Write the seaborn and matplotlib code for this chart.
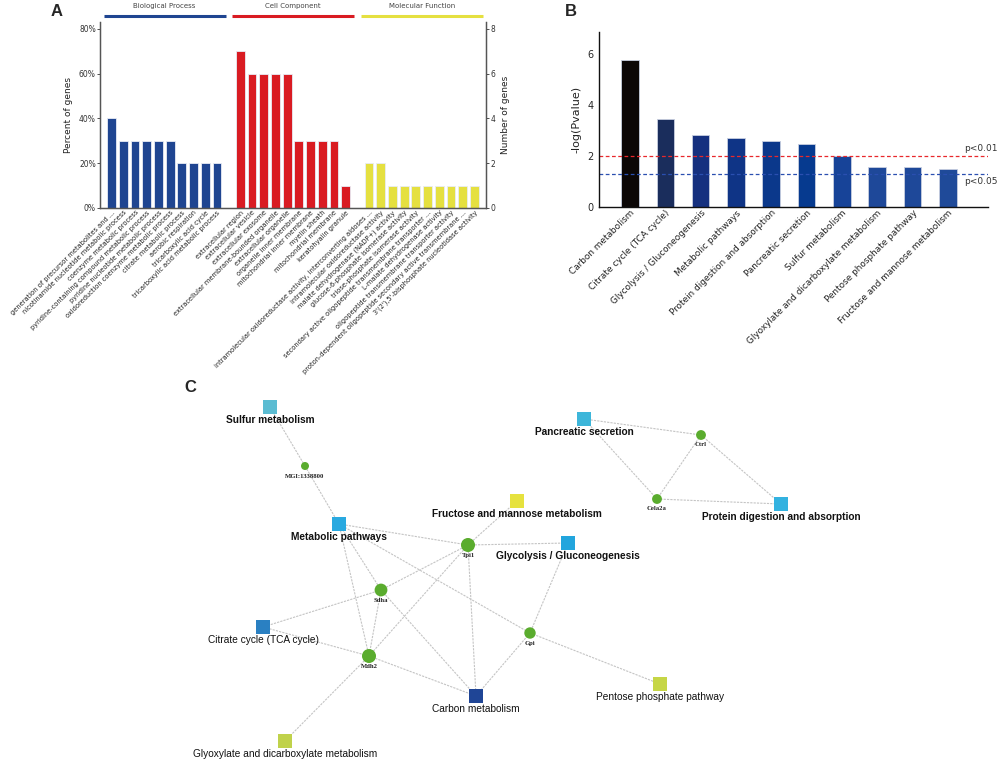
import numpy as np
import pandas as pd
import matplotlib
matplotlib.use("Agg")
import matplotlib.pyplot as plt
import matplotlib.transforms as mtransforms
from matplotlib.ticker import PercentFormatter
import seaborn as sns

# ---------------- panel A data (GO enrichment)
bp_terms = ["generation of precursor metabolites and ...",
            "nicotinamide nucleotide metabolic process",
            "coenzyme metabolic process",
            "pyridine-containing compound metabolic process",
            "pyridine nucleotide metabolic process",
            "oxidoreduction coenzyme metabolic process",
            "citrate metabolic process",
            "aerobic respiration",
            "tricarboxylic acid cycle",
            "tricarboxylic acid metabolic process"]
bp_pct = [40, 30, 30, 30, 30, 30, 20, 20, 20, 20]

cc_terms = ["extracellular region",
            "extracellular vesicle",
            "extracellular exosome",
            "extracellular membrane-bounded organelle",
            "extracellular organelle",
            "organelle inner membrane",
            "mitochondrial inner membrane",
            "myelin sheath",
            "mitochondrial membrane",
            "keratohyalin granule"]
cc_pct = [70, 60, 60, 60, 60, 30, 30, 30, 30, 10]

mf_terms = ["intramolecular oxidoreductase activity, interconverting aldoses ...",
            "intramolecular oxidoreductase activity",
            "malate dehydrogenase (NADP+) activity",
            "glucose-6-phosphate isomerase activity",
            "triose-phosphate isomerase activity",
            "secondary active oligopeptide transmembrane transporter ...",
            "L-malate dehydrogenase activity",
            "oligopeptide transmembrane transporter activity",
            "proton-dependent oligopeptide secondary active transmembrane ...",
            "3'(2'),5'-bisphosphate nucleotidase activity"]
mf_pct = [20, 20, 10, 10, 10, 10, 10, 10, 10, 10]

go_groups = ["Biological Process", "Cell Component", "Molecular Function"]
go_colors = ["#1f4591", "#d91b22", "#e5e040"]

# ---------------- panel B data (KEGG enrichment)
kegg_terms = ["Carbon metabolism", "Citrate cycle (TCA cycle)",
              "Glycolysis / Gluconeogenesis", "Metabolic pathways",
              "Protein digestion and absorption", "Pancreatic secretion",
              "Sulfur metabolism", "Glyoxylate and dicarboxylate metabolism",
              "Pentose phosphate pathway", "Fructose and mannose metabolism"]
kegg_logp = [5.76, 3.46, 2.84, 2.72, 2.57, 2.47, 2.0, 1.57, 1.56, 1.49]
kegg_colors = ["#0b0707", "#1a2d5c", "#15307f", "#0f3486", "#0b388b",
               "#063a8f", "#174398", "#1e4899", "#1e4899", "#1f4a99"]
cut_01 = 2.0
cut_05 = 1.3

# ---------------- panel C data (pathway-gene network, layout in pixels)
path_nodes = ["Sulfur metabolism", "Pancreatic secretion", "Fructose and mannose metabolism",
              "Metabolic pathways", "Glycolysis / Gluconeogenesis", "Protein digestion and absorption",
              "Citrate cycle (TCA cycle)", "Carbon metabolism", "Pentose phosphate pathway",
              "Glyoxylate and dicarboxylate metabolism"]
path_x = [270, 584, 517, 339, 568, 781, 263, 476, 660, 285]
path_y = [407, 419, 501, 524, 543, 504, 627, 696, 684, 741]
path_colors = ["#5bbcd2", "#3db6da", "#e6e23e", "#29a9e0", "#22a5dd", "#33b2e0",
               "#2a80c2", "#1f4596", "#c6d646", "#c0d24b"]
path_bold = [True, True, True, True, True, True, False, False, False, False]

gene_nodes = ["MGI:1338800", "Tpi1", "Ctrl", "Cela2a", "Sdha", "Mdh2", "Gpi"]
gene_x = [305, 468, 701, 657, 381, 369, 530]
gene_y = [466, 545, 435, 499, 590, 656, 633]

edges = [("Sulfur metabolism", "MGI:1338800"), ("MGI:1338800", "Metabolic pathways"),
         ("Metabolic pathways", "Tpi1"), ("Metabolic pathways", "Sdha"),
         ("Metabolic pathways", "Mdh2"), ("Metabolic pathways", "Gpi"),
         ("Tpi1", "Fructose and mannose metabolism"), ("Tpi1", "Glycolysis / Gluconeogenesis"),
         ("Tpi1", "Sdha"), ("Tpi1", "Mdh2"), ("Tpi1", "Carbon metabolism"),
         ("Glycolysis / Gluconeogenesis", "Gpi"), ("Sdha", "Citrate cycle (TCA cycle)"),
         ("Sdha", "Mdh2"), ("Sdha", "Carbon metabolism"), ("Citrate cycle (TCA cycle)", "Mdh2"),
         ("Mdh2", "Carbon metabolism"), ("Mdh2", "Glyoxylate and dicarboxylate metabolism"),
         ("Gpi", "Carbon metabolism"), ("Gpi", "Pentose phosphate pathway"),
         ("Pancreatic secretion", "Ctrl"), ("Pancreatic secretion", "Cela2a"),
         ("Ctrl", "Cela2a"), ("Ctrl", "Protein digestion and absorption"),
         ("Cela2a", "Protein digestion and absorption")]

sns.set_style("white")
plt.rcParams['font.family'] = ['DejaVu Sans']

fig = plt.figure(figsize=(10, 7.63), dpi=100)

# ================= panel A
spacer1, spacer2 = " ", "  "
order = bp_terms + [spacer1] + cc_terms + [spacer2] + mf_terms
go = pd.DataFrame({
    "term": bp_terms + cc_terms + mf_terms,
    "pct": bp_pct + cc_pct + mf_pct,
    "group": [go_groups[0]] * len(bp_terms) + [go_groups[1]] * len(cc_terms)
             + [go_groups[2]] * len(mf_terms)})

axA = fig.add_axes([0.100, 0.7274, 0.386, 0.2438])
sns.barplot(data=go, x="term", y="pct", hue="group", order=order,
            palette=go_colors, dodge=False, width=0.75, legend=False, saturation=1,
            edgecolor="#e8ecf5", linewidth=0.6, ax=axA)
axA.set_xlim(-1, 32)
axA.set_ylim(0, 83)
axA.set_yticks([0, 20, 40, 60, 80])
axA.yaxis.set_major_formatter(PercentFormatter(decimals=0))
axA.set_xlabel("")
axA.set_ylabel("Percent of genes", fontsize=6.5, color="#222")
axA.tick_params(axis="y", labelsize=5.5, length=2, width=0.6, colors="#333", pad=1)
axA.tick_params(axis="x", length=0, pad=1)
axA.set_xticks(range(len(order)))
axA.set_xticklabels(order, rotation=45, ha="right", rotation_mode="anchor",
                    fontsize=4.8, color="#222")
for side in ["left", "right", "bottom"]:
    axA.spines[side].set_color("#555")
    axA.spines[side].set_linewidth(1.0)
axA.spines["top"].set_visible(False)

axA2 = axA.twinx()
axA2.set_ylim(0, 8.3)
axA2.set_yticks([0, 2, 4, 6, 8])
axA2.set_ylabel("Number of genes", fontsize=6.5, color="#222")
axA2.tick_params(axis="y", labelsize=5.5, length=2, width=0.6, colors="#333", pad=1)
for side in ["left", "right", "bottom"]:
    axA2.spines[side].set_color("#555")
axA2.spines["top"].set_visible(False)

# group header bars
trans = mtransforms.blended_transform_factory(axA.transData, axA.transAxes)
starts = [0, len(bp_terms) + 1, len(bp_terms) + len(cc_terms) + 2]
sizes = [len(bp_terms), len(cc_terms), len(mf_terms)]
for name, col, s0, n in zip(go_groups, go_colors, starts, sizes):
    axA.plot([s0 - 0.68, s0 + n - 1 + 0.75], [1.032, 1.032], color=col, lw=2.2,
             transform=trans, clip_on=False, solid_capstyle="butt")
    axA.text(s0 + (n - 1) / 2, 1.085, name, transform=trans, ha="center", va="center",
             fontsize=5, color="#444")

# ================= panel B
kegg = pd.DataFrame({"term": kegg_terms, "logp": kegg_logp})
axB = fig.add_axes([0.599, 0.7287, 0.389, 0.2294])
sns.barplot(data=kegg, x="term", y="logp", hue="term", palette=kegg_colors, saturation=1,
            width=0.5, legend=False, edgecolor="#c8cfe0", linewidth=0.6, ax=axB)
axB.set_xlim(-0.88, 10.14)
axB.set_ylim(0, 6.86)
axB.set_yticks([0, 2, 4, 6])
axB.axhline(cut_01, color="#e8282c", ls=(0, (3, 2)), lw=0.9)
axB.axhline(cut_05, color="#2a4fb0", ls=(0, (3, 2)), lw=0.9)
tB = mtransforms.blended_transform_factory(axB.transAxes, axB.transData)
axB.text(1.026, cut_01 + 0.12, "p<0.01", transform=tB, ha="right", va="bottom",
         fontsize=6.5, color="#333", clip_on=False)
axB.text(1.026, cut_05 - 0.12, "p<0.05", transform=tB, ha="right", va="top",
         fontsize=6.5, color="#333", clip_on=False)
axB.set_xlabel("")
axB.set_ylabel("-log(Pvalue)", fontsize=8, color="#222")
axB.tick_params(axis="y", labelsize=7, length=2, width=0.8, pad=2)
axB.tick_params(axis="x", length=0, pad=1)
axB.set_xticks(range(len(kegg_terms)))
axB.set_xticklabels(kegg_terms, rotation=45, ha="right", rotation_mode="anchor",
                    fontsize=6.4, color="#222")
for side in ["left", "bottom"]:
    axB.spines[side].set_color("#111")
    axB.spines[side].set_linewidth(1.0)
sns.despine(ax=axB)

# ================= panel C
axC = fig.add_axes([0, 0, 1, 388 / 763])
axC.set_xlim(0, 1000)
axC.set_ylim(763, 375)
axC.axis("off")

pos = {n: (x, y) for n, x, y in zip(path_nodes, path_x, path_y)}
pos.update({n: (x, y) for n, x, y in zip(gene_nodes, gene_x, gene_y)})
for a, b in edges:
    axC.plot([pos[a][0], pos[b][0]], [pos[a][1], pos[b][1]], color="#c4c4c4",
             lw=0.8, ls=(0, (2, 1)), zorder=1)

deg = [sum(g in e for e in edges) for g in gene_nodes]
genes = pd.DataFrame({"x": gene_x, "y": gene_y, "deg": deg})
sns.scatterplot(data=genes, x="x", y="y", size="deg", sizes=(33, 102), color="#5aac2e",
                edgecolor="none", legend=False, ax=axC, zorder=3)
paths = pd.DataFrame({"x": path_x, "y": path_y, "name": path_nodes})
sns.scatterplot(data=paths, x="x", y="y", hue="name", palette=path_colors, marker="s",
                s=88, edgecolor="none", legend=False, ax=axC, zorder=3)
axC.set_xlabel("")
axC.set_ylabel("")

for n, x, y, b in zip(path_nodes, path_x, path_y, path_bold):
    axC.text(x, y + 13, n, ha="center", va="center", fontsize=7.3,
             family="Liberation Sans", fontweight="bold" if b else "normal", color="#111")
for n, x, y in zip(gene_nodes, gene_x, gene_y):
    axC.text(x, y + 10, n, ha="center", va="center", fontsize=4.8,
             family="Liberation Serif", fontweight="bold", color="#222")

# panel letters
for lab, x, y in [("A", 57, 12), ("B", 571, 12), ("C", 190, 387)]:
    fig.text(x / 1000, 1 - y / 763, lab, ha="center", va="center", fontsize=12,
             fontweight="bold", family="Liberation Sans")

fig.savefig("out.png", dpi=100)
